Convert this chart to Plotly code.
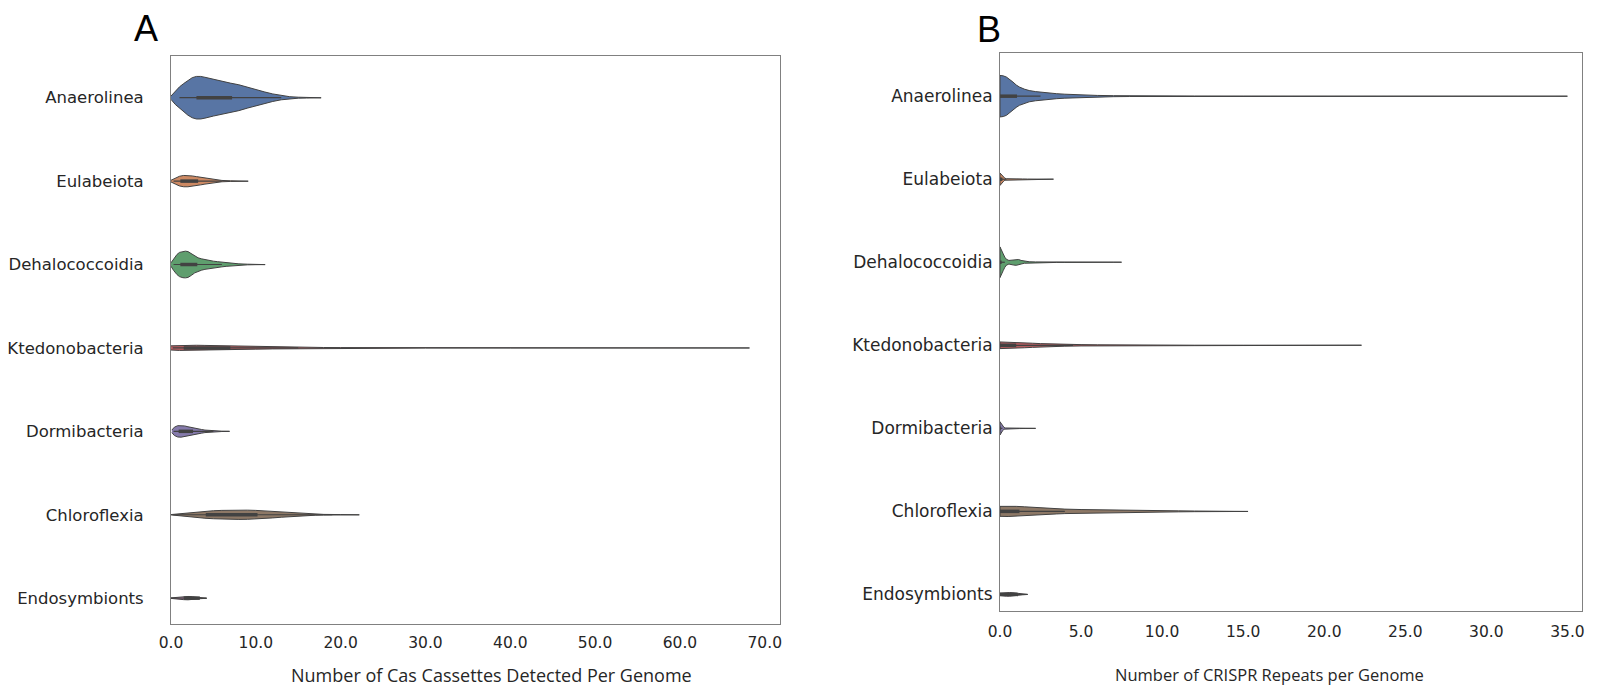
import plotly.graph_objects as go

# ---------------- data ----------------
categories = ["Anaerolinea", "Eulabeiota", "Dehalococcoidia", "Ktedonobacteria",
              "Dormibacteria", "Chloroflexia", "Endosymbionts"]
colors = ["#5875A4", "#CC8963", "#5F9E6E", "#B55D60", "#857AAB", "#8D7866", "#D48FC1"]

cas_ticks = [0, 10, 20, 30, 40, 50, 60, 70]
crispr_ticks = [0, 5, 10, 15, 20, 25, 30, 35]

# Panel A: Cas cassettes per genome – density outline (value, half-width in row units)
cas_anaerolinea_x = [0, 0.5, 1, 1.5, 2, 2.5, 3, 3.5, 4, 5, 6, 7, 8, 9, 10, 11, 12, 13, 14, 15, 16, 17, 17.7]
cas_anaerolinea_w = [0.02, 0.08, 0.13, 0.17, 0.21, 0.24, 0.255, 0.255, 0.245, 0.22, 0.195, 0.175, 0.155,
                     0.125, 0.095, 0.07, 0.045, 0.025, 0.012, 0.006, 0.004, 0.002, 0.001]
cas_eulabeiota_x = [0, 0.5, 1, 1.5, 2, 2.5, 3, 3.5, 4, 4.5, 5, 5.5, 6, 7, 8, 9.1]
cas_eulabeiota_w = [0.01, 0.035, 0.058, 0.068, 0.068, 0.062, 0.054, 0.045, 0.036, 0.028, 0.02, 0.013,
                    0.008, 0.004, 0.002, 0.001]
cas_dehalo_x = [0, 0.3, 0.7, 1.0, 1.4, 1.7, 2.0, 2.4, 2.8, 3.2, 3.6, 4.0, 4.5, 5, 5.5, 6, 6.5, 7, 7.5,
                8, 9, 10, 11.1]
cas_dehalo_w = [0.02, 0.07, 0.12, 0.145, 0.158, 0.16, 0.155, 0.13, 0.1, 0.08, 0.068, 0.058, 0.048, 0.04,
                0.034, 0.028, 0.022, 0.018, 0.012, 0.008, 0.004, 0.002, 0.001]
cas_ktedono_x = [0, 1, 2, 3, 4, 5, 6, 7, 8, 10, 12, 14, 16, 18, 20, 25, 30, 40, 50, 60, 68.2]
cas_ktedono_w = [0.025, 0.03, 0.032, 0.032, 0.03, 0.028, 0.025, 0.022, 0.019, 0.015, 0.012, 0.009, 0.007,
                 0.005, 0.004, 0.003, 0.002, 0.0015, 0.001, 0.001, 0.0005]
cas_dormi_x = [0.1, 0.4, 0.8, 1.2, 1.6, 2.0, 2.4, 2.8, 3.2, 3.6, 4.0, 4.5, 5, 5.5, 6, 6.9]
cas_dormi_w = [0.015, 0.05, 0.068, 0.07, 0.065, 0.055, 0.045, 0.038, 0.03, 0.022, 0.015, 0.01, 0.006,
               0.004, 0.002, 0.001]
cas_chloro_x = [0, 1, 2, 3, 4, 5, 6, 7, 8, 9, 10, 11, 12, 13, 14, 15, 16, 17, 18, 20, 22.2]
cas_chloro_w = [0.002, 0.012, 0.024, 0.034, 0.042, 0.048, 0.052, 0.055, 0.056, 0.055, 0.052, 0.046,
                0.038, 0.03, 0.022, 0.015, 0.01, 0.006, 0.004, 0.002, 0.001]
cas_endo_x = [0, 0.5, 1, 1.5, 2, 2.5, 3, 3.5, 4.2]
cas_endo_w = [0.003, 0.008, 0.014, 0.018, 0.02, 0.018, 0.012, 0.006, 0.002]

cas_q1 = [3.0, 1.1, 1.1, 1.5, 0.9, 4.1, 1.5]
cas_q3 = [7.2, 3.2, 3.1, 7.0, 2.6, 10.2, 3.4]
cas_wlo = [1.0, 0.3, 0.3, 0.2, 0.3, 0.2, 0.0]
cas_whi = [13.0, 6.0, 6.0, 15.0, 5.0, 19.0, 4.2]

# Panel B: CRISPR repeats per genome
cr_anaerolinea_x = [0, 0.2, 0.4, 0.6, 0.8, 1.0, 1.2, 1.5, 1.8, 2.2, 2.6, 3.0, 3.5, 4.0, 4.5, 5.0, 5.5,
                    6, 7, 8, 10, 12, 15, 20, 25, 30, 35]
cr_anaerolinea_w = [0.25, 0.245, 0.23, 0.205, 0.17, 0.135, 0.11, 0.085, 0.068, 0.055, 0.045, 0.037,
                    0.03, 0.024, 0.019, 0.015, 0.012, 0.009, 0.006, 0.004, 0.0025, 0.002, 0.0015,
                    0.001, 0.0008, 0.0006, 0.0004]
cr_eulabeiota_x = [0, 0.1, 0.2, 0.3, 0.4, 0.6, 0.8, 1.0, 1.2, 1.4, 1.7, 2.0, 2.5, 3.0, 3.3]
cr_eulabeiota_w = [0.075, 0.055, 0.03, 0.012, 0.006, 0.004, 0.006, 0.008, 0.006, 0.003, 0.002, 0.003,
                   0.002, 0.001, 0.0005]
cr_dehalo_x = [0, 0.1, 0.2, 0.3, 0.4, 0.55, 0.7, 0.85, 1.0, 1.15, 1.3, 1.5, 1.8, 2.2, 2.6, 3.0, 3.5,
               4.0, 5.0, 6.0, 7.0, 7.5]
cr_dehalo_w = [0.185, 0.15, 0.1, 0.06, 0.035, 0.022, 0.025, 0.034, 0.037, 0.033, 0.022, 0.012, 0.006,
               0.004, 0.003, 0.003, 0.002, 0.002, 0.0015, 0.001, 0.001, 0.0005]
cr_ktedono_x = [0, 0.5, 1.0, 1.5, 2.0, 2.5, 3, 3.5, 4, 5, 6, 7, 7.5, 8, 10, 12, 15, 18, 20, 22.3]
cr_ktedono_w = [0.04, 0.038, 0.034, 0.03, 0.025, 0.02, 0.016, 0.013, 0.011, 0.008, 0.006, 0.004, 0.003,
                0.002, 0.0015, 0.001, 0.001, 0.001, 0.0008, 0.0005]
cr_dormi_x = [0, 0.08, 0.16, 0.25, 0.35, 0.5, 0.8, 1.2, 1.6, 2.0, 2.2]
cr_dormi_w = [0.08, 0.06, 0.03, 0.01, 0.004, 0.003, 0.003, 0.003, 0.002, 0.001, 0.0005]
cr_chloro_x = [0, 0.5, 1.0, 1.5, 2, 2.5, 3, 3.5, 4, 5, 6, 7, 8, 9, 10, 11, 12, 13, 14, 15.3]
cr_chloro_w = [0.06, 0.062, 0.06, 0.055, 0.048, 0.042, 0.036, 0.031, 0.027, 0.022, 0.018, 0.015, 0.012,
               0.01, 0.008, 0.006, 0.004, 0.003, 0.002, 0.001]
cr_endo_x = [0, 0.2, 0.4, 0.6, 0.8, 1.0, 1.2, 1.4, 1.7]
cr_endo_w = [0.015, 0.02, 0.022, 0.022, 0.02, 0.016, 0.01, 0.005, 0.001]

cr_q1 = [0.0, 0.0, 0.0, 0.0, 0.0, 0.0, 0.0]
cr_q3 = [1.05, 0.15, 0.1, 1.0, 0.05, 1.2, 1.1]
cr_wlo = [0.0, 0.0, 0.0, 0.0, 0.0, 0.0, 0.0]
cr_whi = [2.5, 0.4, 0.3, 4.5, 0.15, 4.0, 1.7]

cas_profiles = [(cas_anaerolinea_x, cas_anaerolinea_w), (cas_eulabeiota_x, cas_eulabeiota_w),
                (cas_dehalo_x, cas_dehalo_w), (cas_ktedono_x, cas_ktedono_w),
                (cas_dormi_x, cas_dormi_w), (cas_chloro_x, cas_chloro_w), (cas_endo_x, cas_endo_w)]
cr_profiles = [(cr_anaerolinea_x, cr_anaerolinea_w), (cr_eulabeiota_x, cr_eulabeiota_w),
               (cr_dehalo_x, cr_dehalo_w), (cr_ktedono_x, cr_ktedono_w),
               (cr_dormi_x, cr_dormi_w), (cr_chloro_x, cr_chloro_w), (cr_endo_x, cr_endo_w)]

# ---------------- figure ----------------
EDGE = "#424242"
fig = go.Figure()


def add_panel(profiles, q1, q3, wlo, whi, xa, ya, clip_left):
    for i, (xs, ws) in enumerate(profiles):
        top = [i - w for w in ws]
        bot = [i + w for w in ws]
        px = list(xs) + list(xs[::-1])
        py = top + bot[::-1]
        if clip_left:
            px = px + [xs[0]]
            py = py + [top[0]]
        fig.add_trace(go.Scatter(x=px, y=py, mode="lines", fill="toself",
                                 fillcolor=colors[i], line=dict(color=EDGE, width=1),
                                 xaxis=xa, yaxis=ya, hoverinfo="skip", showlegend=False))
        fig.add_trace(go.Scatter(x=[wlo[i], whi[i]], y=[i, i], mode="lines",
                                 line=dict(color=EDGE, width=1.2),
                                 xaxis=xa, yaxis=ya, hoverinfo="skip", showlegend=False))
        fig.add_trace(go.Scatter(x=[q1[i], q3[i]], y=[i, i], mode="lines",
                                 line=dict(color=EDGE, width=3.5),
                                 xaxis=xa, yaxis=ya, hoverinfo="skip", showlegend=False))


add_panel(cas_profiles, cas_q1, cas_q3, cas_wlo, cas_whi, "x", "y", False)
add_panel(cr_profiles, cr_q1, cr_q3, cr_wlo, cr_whi, "x2", "y2", True)

XTICKFONT = dict(family="DejaVu Sans", size=15.5, color="#262626")
YTICKFONT_A = dict(family="DejaVu Sans", size=16.5, color="#262626")
YTICKFONT_B = dict(family="DejaVu Sans", size=17, color="#262626")
FRAME = "#808080"

common_x = dict(showgrid=False, zeroline=False, showline=True, mirror=True, linecolor=FRAME,
                linewidth=1, ticks="", tickfont=XTICKFONT, tickformat=".1f", automargin=False)
common_y = dict(showgrid=False, zeroline=False, showline=True, mirror=True, linecolor=FRAME,
                linewidth=1, ticks="", tickmode="array", automargin=False,
                tickvals=list(range(len(categories))), ticktext=categories)

# page body has an 8px margin -> figure coordinates = screen coordinates - 8
fig.update_layout(
    width=1589, height=680,
    margin=dict(l=0, r=0, t=0, b=0, autoexpand=False),
    paper_bgcolor="white", plot_bgcolor="white",
    xaxis=dict(domain=[0.10258, 0.48584], range=[0, 71.8], tickvals=cas_ticks,
               anchor="y", ticklabelstandoff=4, **common_x),
    yaxis=dict(domain=[0.09412, 0.92941], range=[6.31, -0.5], anchor="x",
               ticklabelstandoff=23, tickfont=YTICKFONT_A, **common_y),
    xaxis2=dict(domain=[0.62429, 0.99056], range=[0, 35.9], tickvals=crispr_ticks,
                anchor="y2", ticklabelstandoff=6, **common_x),
    yaxis2=dict(domain=[0.11324, 0.93382], range=[6.2, -0.52], anchor="x2",
                ticklabelstandoff=3, tickfont=YTICKFONT_B, **common_y),
    showlegend=False,
)

fig.add_annotation(text="A", x=0.08685, y=0.9700, xref="paper", yref="paper",
                   showarrow=False, xanchor="center", yanchor="middle",
                   font=dict(family="Liberation Sans", size=36, color="black"))
fig.add_annotation(text="B", x=0.61737, y=0.9685, xref="paper", yref="paper",
                   showarrow=False, xanchor="center", yanchor="middle",
                   font=dict(family="Liberation Sans", size=36, color="black"))
fig.add_annotation(text="Number of Cas Cassettes Detected Per Genome", x=0.30459,
                   y=0.01912, xref="paper", yref="paper", showarrow=False,
                   xanchor="center", yanchor="middle",
                   font=dict(family="Open Sans", size=18, color="#262626"))
fig.add_annotation(text="Number of CRISPR Repeats per Genome", x=0.79421,
                   y=0.01912, xref="paper", yref="paper", showarrow=False,
                   xanchor="center", yanchor="middle",
                   font=dict(family="Open Sans", size=16.5, color="#262626"))

fig.write_html("out.html")
